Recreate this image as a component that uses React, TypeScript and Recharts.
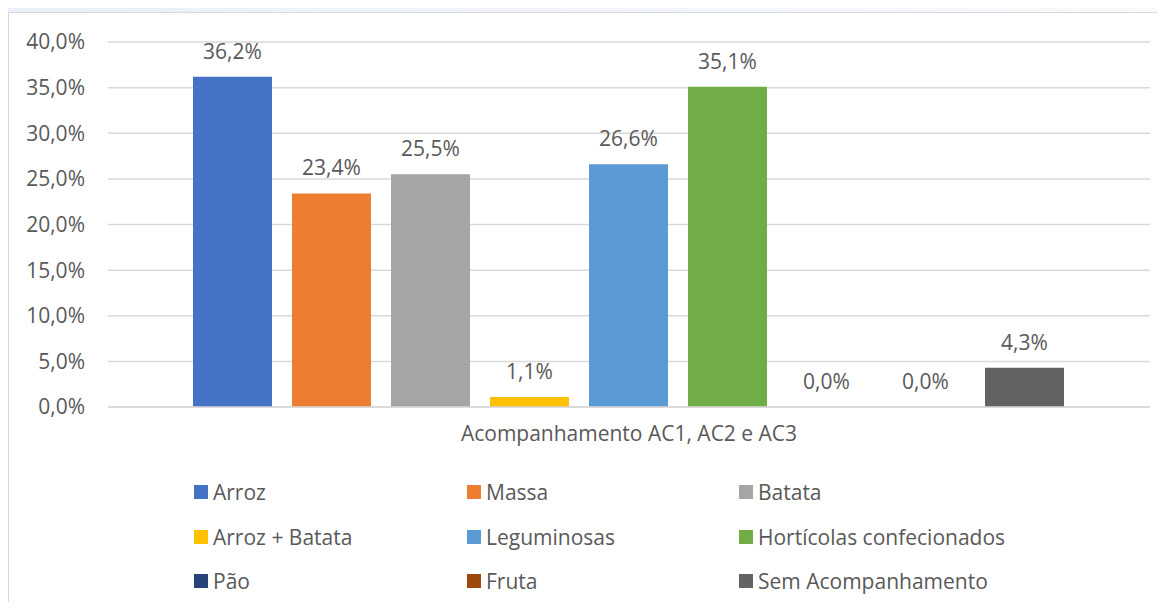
import React from 'react';
import { BarChart, Bar, XAxis, YAxis, CartesianGrid } from 'recharts';

const category = 'Acompanhamento AC1, AC2 e AC3';
const seriesNames = [
  'Arroz',
  'Massa',
  'Batata',
  'Arroz + Batata',
  'Leguminosas',
  'Hortícolas confecionados',
  'Pão',
  'Fruta',
  'Sem Acompanhamento',
];
const seriesValues = [36.2, 23.4, 25.5, 1.1, 26.6, 35.1, 0.0, 0.0, 4.3];
const seriesColors = ['#4472c4', '#ed7d31', '#a5a5a5', '#ffc000', '#5b9bd5', '#70ad47', '#264478', '#9e480e', '#636363'];
const yTicks = [0, 5, 10, 15, 20, 25, 30, 35, 40];

const FONT = '"Open Sans", "Noto Sans", sans-serif';
const FS = 21;
const TEXT = '#595959';
const GRID = '#d9d9d9';

const pct = (v: number) => v.toFixed(1).replace('.', ',') + '%';

const chartData = [
  seriesNames.reduce<Record<string, string | number>>(
    (row, name, i) => {
      row['s' + i] = seriesValues[i];
      return row;
    },
    { name: category }
  ),
];

// label above each bar, also drawn for zero-height bars
const renderLabel = (props: any) => {
  const { x, y, width, value } = props;
  return (
    <text
      x={Number(x) + Number(width) / 2}
      y={Number(y) - 18}
      textAnchor="middle"
      fill={TEXT}
      fontSize={FS}
      fontFamily={FONT}
    >
      {pct(Number(value))}
    </text>
  );
};

const App: React.FC = () => {
  return (
    <div
      style={{
        position: 'relative',
        margin: -8,
        width: 1165,
        height: 610,
        overflow: 'hidden',
        background: 'linear-gradient(90deg, #eaf0f8 0%, #f2f5fa 60%, #f7f9fc 100%)',
        fontFamily: FONT,
      }}
    >
      <div
        style={{
          position: 'absolute',
          left: 8,
          top: 12,
          width: 1200,
          height: 700,
          background: '#fff',
          border: '1px solid ' + GRID,
        }}
      />
      <div style={{ position: 'absolute', left: 0, top: 0 }}>
        <BarChart
          width={1165}
          height={610}
          data={chartData}
          margin={{ top: 42, right: 15, bottom: 153, left: 8 }}
          barCategoryGap={85}
          barGap={20}
        >
          <CartesianGrid vertical={false} stroke={GRID} strokeWidth={1.5} />
          <XAxis
            dataKey="name"
            height={50}
            axisLine={{ stroke: GRID, strokeWidth: 1.5 }}
            tickLine={false}
            tickMargin={13}
            tick={{ fontSize: FS, fill: TEXT, fontFamily: FONT }}
          />
          <YAxis
            width={100}
            domain={[0, 40]}
            ticks={yTicks}
            tickFormatter={pct}
            axisLine={false}
            tickLine={false}
            tickSize={0}
            tickMargin={23}
            tick={{ fontSize: FS, fill: TEXT, fontFamily: FONT }}
          />
          {seriesNames.map((name, i) => (
            <Bar
              key={name}
              dataKey={'s' + i}
              name={name}
              fill={seriesColors[i]}
              minPointSize={0.01}
              isAnimationActive={false}
              label={renderLabel}
            />
          ))}
        </BarChart>
      </div>
      {seriesNames.map((name, i) => {
        const col = i % 3;
        const row = Math.floor(i / 3);
        const left = [194, 467, 739][col];
        const top = [492, 537, 581][row];
        return (
          <div
            key={name}
            style={{
              position: 'absolute',
              left,
              top: top - 15,
              height: 30,
              display: 'flex',
              alignItems: 'center',
              fontSize: FS,
              color: TEXT,
              whiteSpace: 'nowrap',
            }}
          >
            <span style={{ display: 'inline-block', width: 14, height: 14, background: seriesColors[i], marginRight: 5 }} />
            {name}
          </div>
        );
      })}
    </div>
  );
};

export default App;
